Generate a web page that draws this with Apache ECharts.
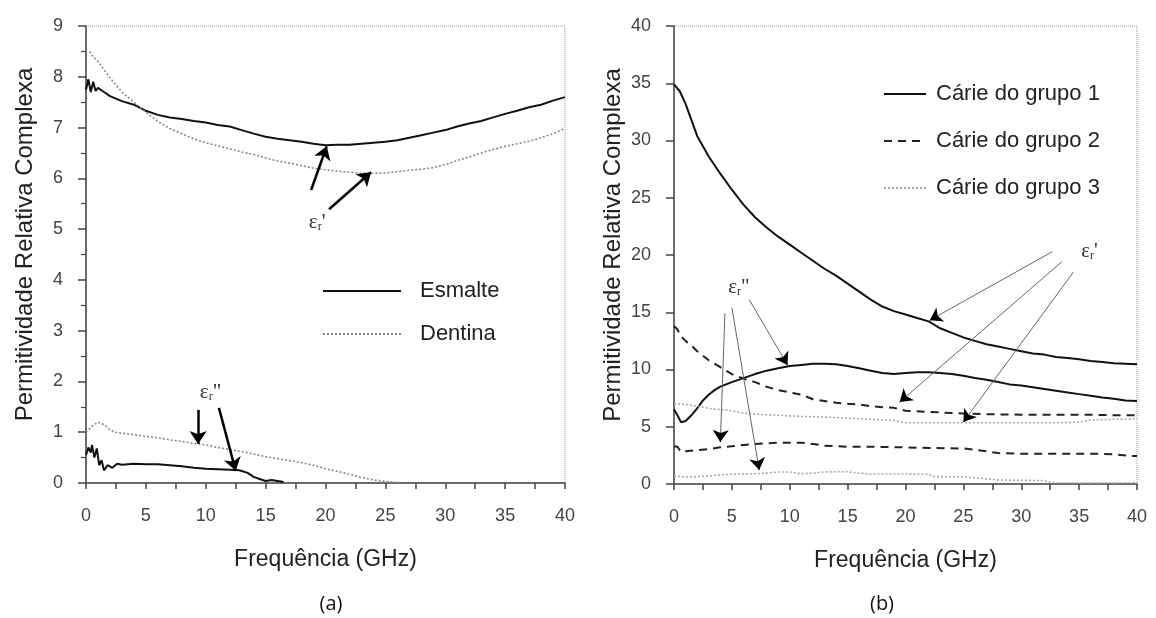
<!DOCTYPE html>
<html><head><meta charset="utf-8">
<script src="https://cdn.jsdelivr.net/npm/echarts/dist/echarts.min.js"></script>
<style>html,body{margin:0;padding:0;background:#fff}#c{width:1156px;height:618px}</style>
</head><body><div id="c"></div>
<script>
// ---------- Panel (a): Esmalte / Dentina ----------
const esmRealF = [0,0.2,0.4,0.6,0.8,1,1.5,2,3,4,5,6,7,8,9,10,11,12,13,14,15,16,17,18,19,20,21,22,23,24,25,26,27,28,29,30,31,32,33,34,35,36,37,38,39,40];
const esmRealV = [7.75,7.95,7.7,7.9,7.72,7.78,7.7,7.62,7.52,7.45,7.33,7.25,7.2,7.17,7.13,7.1,7.05,7.02,6.95,6.88,6.82,6.78,6.75,6.72,6.68,6.65,6.66,6.66,6.68,6.7,6.72,6.75,6.8,6.85,6.9,6.95,7.02,7.08,7.13,7.2,7.27,7.33,7.4,7.45,7.53,7.6];
const denRealF = [0.3,0.5,1,2,3,4,5,6,7,8,9,10,11,12,13,14,15,16,17,18,19,20,21,22,23,24,25,26,27,28,29,30,31,32,33,34,35,36,37,38,39,40];
const denRealV = [8.5,8.42,8.3,7.98,7.7,7.5,7.3,7.12,6.98,6.88,6.78,6.7,6.64,6.58,6.52,6.47,6.4,6.34,6.3,6.25,6.2,6.17,6.14,6.12,6.1,6.1,6.11,6.13,6.16,6.18,6.21,6.27,6.35,6.42,6.5,6.57,6.63,6.68,6.73,6.8,6.88,6.98];
const esmImagF = [0,0.2,0.4,0.5,0.7,0.9,1.1,1.3,1.5,1.8,2.2,2.6,3,4,5,6,7,8,9,10,11,12,12.8,13.5,14,14.5,15,15.5,16,16.5];
const esmImagV = [0.55,0.7,0.6,0.75,0.5,0.68,0.35,0.45,0.25,0.35,0.3,0.38,0.36,0.38,0.37,0.37,0.35,0.33,0.3,0.28,0.27,0.26,0.25,0.2,0.12,0.08,0.04,0.06,0.04,0.02];
const denImagF = [0,0.5,1,1.5,2,2.5,3,4,5,6,7,8,9,10,11,12,13,14,15,16,17,18,19,20,21,22,23,24,25,26];
const denImagV = [1.0,1.12,1.2,1.15,1.05,1.0,0.98,0.95,0.92,0.89,0.85,0.82,0.78,0.75,0.7,0.66,0.62,0.57,0.52,0.48,0.44,0.4,0.35,0.28,0.23,0.17,0.11,0.06,0.03,0.01];

// ---------- Panel (b): Cárie groups ----------
const g1RealF = [0,0.5,1,1.5,2,3,4,5,6,7,8,9,10,11,12,13,14,15,16,17,18,19,20,21,22,23,24,25,26,27,28,29,30,31,32,33,34,35,36,37,38,39,40];
const g1RealV = [34.9,34.3,33.2,31.8,30.4,28.6,27.1,25.7,24.4,23.3,22.4,21.6,20.9,20.2,19.5,18.8,18.2,17.5,16.8,16.1,15.5,15.1,14.8,14.5,14.2,13.6,13.2,12.8,12.5,12.2,12.0,11.8,11.6,11.4,11.3,11.1,11.0,10.9,10.75,10.65,10.55,10.5,10.45];
const g1ImagF = [0,0.3,0.6,1,1.5,2,2.5,3,3.5,4,5,6,7,8,9,10,11,12,13,14,15,16,17,18,19,20,21,22,23,24,25,26,27,28,29,30,31,32,33,34,35,36,37,38,39,40];
const g1ImagV = [6.5,6.0,5.4,5.5,6.0,6.6,7.3,7.8,8.2,8.5,8.9,9.25,9.6,9.9,10.1,10.3,10.4,10.5,10.5,10.45,10.3,10.1,9.9,9.7,9.6,9.7,9.75,9.75,9.7,9.6,9.45,9.25,9.1,8.9,8.7,8.6,8.45,8.3,8.15,8.0,7.85,7.7,7.55,7.45,7.3,7.25];
const g2RealF = [0,0.3,0.6,1,1.5,2,2.5,3,4,4.5,5,6,7,8,9,10,11,12,13,14,15,16,17,18,19,20,21,22,23,24,25,27,30,33,36,38,40];
const g2RealV = [13.8,13.5,12.9,12.5,12.1,11.6,11.2,10.8,10.2,9.9,9.6,9.2,8.9,8.5,8.2,8.0,7.8,7.4,7.25,7.1,7.0,6.95,6.8,6.7,6.65,6.4,6.35,6.3,6.25,6.2,6.15,6.1,6.05,6.05,6.05,6.0,6.0];
const g2ImagF = [0,0.3,0.6,1,2,3,4,5,6,7,8,9,10,11,12,13,14,15,17,20,22,25,26,27,28,30,33,36,38,39.5,40];
const g2ImagV = [3.3,3.25,2.8,2.85,2.95,3.05,3.2,3.3,3.4,3.5,3.55,3.6,3.6,3.6,3.5,3.35,3.3,3.25,3.25,3.2,3.15,3.1,3.0,2.85,2.7,2.65,2.65,2.65,2.6,2.45,2.45];
const g3RealF = [0,1,2,3,4,5,6,7,8,9,10,11,12,13,14,15,16,17,18,19,20,22,25,28,30,33,35,36,38,40];
const g3RealV = [7.0,6.95,6.8,6.6,6.5,6.4,6.2,6.1,6.05,6.0,5.95,5.9,5.88,5.85,5.8,5.75,5.7,5.65,5.6,5.55,5.35,5.35,5.35,5.35,5.35,5.35,5.4,5.6,5.65,5.7];
const g3ImagF = [0,1,2,3,4,5,6,7,8,9,10,11,12,13,14,15,16,17,18,20,22,22.5,25,27,28,30,32,32.5,35,38,40];
const g3ImagV = [0.7,0.6,0.65,0.7,0.8,0.85,0.88,0.9,0.95,1.05,1.05,0.9,0.95,1.05,1.07,1.07,0.95,0.87,0.87,0.87,0.85,0.65,0.62,0.45,0.35,0.32,0.3,0.12,0.1,0.1,0.12];

const xTicks = [0,5,10,15,20,25,30,35,40];
const legendA = ['Esmalte','Dentina'];
const legendB = ['Cárie do grupo 1','Cárie do grupo 2','Cárie do grupo 3'];
const yName = 'Permitividade Relativa Complexa';
const xName = 'Frequência (GHz)';

// annotation arrows (data coords: x1,y1 -> x2,y2)
const arrowsA = [[18.8,5.77,20.1,6.63],[20.3,5.39,23.8,6.12],[9.36,1.44,9.36,0.77],[11.1,1.48,12.5,0.24]];
const labelsA = [{p:"'", c:[19.3,5.14]},{p:'"', c:[10.4,1.79]}];
const arrowsB = [[32.7,20.3,22.1,14.3],[33.5,19.4,19.5,7.16],[34.5,18.5,25.0,5.41],[4.4,14.9,4.0,3.67],[5.0,15.4,7.36,1.22],[6.5,16.1,9.8,10.4]];
const labelsB = [{p:"'", c:[35.9,20.3]},{p:'"', c:[5.6,17.2]}];

const pairs = (f, v) => f.map((x, i) => [x, v[i]]);
const SANS = 'Liberation Sans, Arial, sans-serif';

function xAxis(gi) {
  return {
    type:'value', gridIndex:gi, min:0, max:40, interval:5,
    name:xName, nameLocation:'middle', nameGap:65,
    nameTextStyle:{fontFamily:SANS, fontSize:23, color:'#222'},
    axisLine:{show:true, onZero:false, lineStyle:{color:'#444', width:1.5}},
    axisTick:{show:true, length:6, lineStyle:{color:'#444', width:1.5}},
    minorTick:{show:true, splitNumber:2, length:6, lineStyle:{color:'#444', width:1.5}},
    splitLine:{show:false},
    axisLabel:{margin:24, fontFamily:SANS, fontSize:18, color:'#444', formatter:v => xTicks.includes(v) ? String(v) : ''}
  };
}
function yAxis(gi, max, interval, minor) {
  return {
    type:'value', gridIndex:gi, min:0, max:max, interval:interval,
    name:yName, nameLocation:'middle', nameGap:49,
    nameTextStyle:{fontFamily:SANS, fontSize:24, color:'#222', padding:[0,0,0,20]},
    axisLine:{show:true, onZero:false, lineStyle:{color:'#444', width:1.5}},
    axisTick:{show:true, length:8, lineStyle:{color:'#444', width:1.5}},
    minorTick:{show:minor, splitNumber:2, length:5, lineStyle:{color:'#444', width:1.2}},
    splitLine:{show:false},
    axisLabel:{margin:23, fontFamily:SANS, fontSize:18, color:'#444'}
  };
}
const styles = {
  solid:{color:'#111', width:2, type:'solid'},
  dotA:{color:'#888', width:1.6, type:[2,2]},
  dash:{color:'#222', width:2, type:[8,6]},
  dotB:{color:'#a8a8a8', width:1.6, type:[2,2]}
};
function line(name, gi, data, st) {
  return {
    type:'line', name:name, xAxisIndex:gi, yAxisIndex:gi, data:data,
    showSymbol:false, symbol:'none', smooth:false,
    lineStyle:st, itemStyle:{color:st.color}, silent:true, z:3
  };
}
function epsLabel(p) {
  return '{e|ε}{s|r}{e|' + p + '}';
}
function annot(gi, arrows, labels, lw, col, sz, withLabels) {
  return {
    type:'line', name:'annot' + gi + col, xAxisIndex:gi, yAxisIndex:gi, data:[], silent:true, z:5,
    markLine:{
      silent:true, animation:false, symbol:['none','arrow'], symbolSize:sz,
      lineStyle:{color:col, width:lw, type:'solid'},
      label:{show:false}, emphasis:{disabled:true},
      data: arrows.map(a => [{coord:[a[0],a[1]]},{coord:[a[2],a[3]]}])
    },
    markPoint: withLabels ? {
      silent:true, animation:false, symbol:'circle', symbolSize:0,
      data: labels.map(l => ({coord:l.c, value:l.p})),
      label:{show:true, position:'inside', formatter:pp => epsLabel(pp.value),
        rich:{
          e:{fontFamily:'Liberation Serif, serif', fontSize:21, color:'#333', verticalAlign:'bottom'},
          s:{fontFamily:'Liberation Serif, serif', fontSize:12, color:'#333', verticalAlign:'bottom', padding:[8,0,0,0]}
        }}
    } : undefined
  };
}
// short black arrow-head segments at the tips of the thin grey arrows in panel (b)
const headsB = arrowsB.map(a => [a[2] - (a[2]-a[0])*0.04, a[3] - (a[3]-a[1])*0.04, a[2], a[3]]);

const chart = echarts.init(document.getElementById('c'), null, {renderer:'canvas'});
chart.setOption({
  animation:false,
  backgroundColor:'#fff',
  title:[
    {text:'(a)', left:326, top:589, textAlign:'center', textStyle:{fontFamily:'Open Sans, sans-serif', fontSize:20, fontWeight:'normal', color:'#111'}},
    {text:'(b)', left:877, top:589, textAlign:'center', textStyle:{fontFamily:'Open Sans, sans-serif', fontSize:20, fontWeight:'normal', color:'#111'}}
  ],
  grid:[
    {left:86, top:26, width:479, height:457, show:true, borderColor:'#999', borderWidth:1, borderType:'dotted', backgroundColor:'transparent'},
    {left:674, top:26, width:463, height:458, show:true, borderColor:'#999', borderWidth:1, borderType:'dotted', backgroundColor:'transparent'}
  ],
  xAxis:[xAxis(0), xAxis(1)],
  yAxis:[yAxis(0, 9, 1, true), yAxis(1, 40, 5, false)],
  legend:[
    {data:legendA, orient:'vertical', left:317, top:275, itemWidth:78, itemHeight:14, itemGap:21, selectedMode:false,
     itemStyle:{opacity:0, borderWidth:0},
     textStyle:{fontFamily:SANS, fontSize:22, color:'#222', padding:[0,0,0,14]}},
    {data:legendB, orient:'vertical', left:878, top:78, itemWidth:42, itemHeight:14, itemGap:25, selectedMode:false,
     itemStyle:{opacity:0, borderWidth:0},
     textStyle:{fontFamily:SANS, fontSize:22, color:'#222', padding:[0,0,0,5]}}
  ],
  series:[
    line('Esmalte', 0, pairs(esmRealF, esmRealV), styles.solid),
    line('Dentina', 0, pairs(denRealF, denRealV), styles.dotA),
    line('Esmalte', 0, pairs(esmImagF, esmImagV), styles.solid),
    line('Dentina', 0, pairs(denImagF, denImagV), styles.dotA),
    line('Cárie do grupo 1', 1, pairs(g1RealF, g1RealV), styles.solid),
    line('Cárie do grupo 1', 1, pairs(g1ImagF, g1ImagV), styles.solid),
    line('Cárie do grupo 2', 1, pairs(g2RealF, g2RealV), styles.dash),
    line('Cárie do grupo 2', 1, pairs(g2ImagF, g2ImagV), styles.dash),
    line('Cárie do grupo 3', 1, pairs(g3RealF, g3RealV), styles.dotB),
    line('Cárie do grupo 3', 1, pairs(g3ImagF, g3ImagV), styles.dotB),
    annot(0, arrowsA, labelsA, 2.5, '#000', 13, true),
    annot(1, arrowsB, labelsB, 1, '#666', [1, 1], true),
    annot(1, headsB, [], 1, '#000', 12, false)
  ]
});
</script></body></html>
